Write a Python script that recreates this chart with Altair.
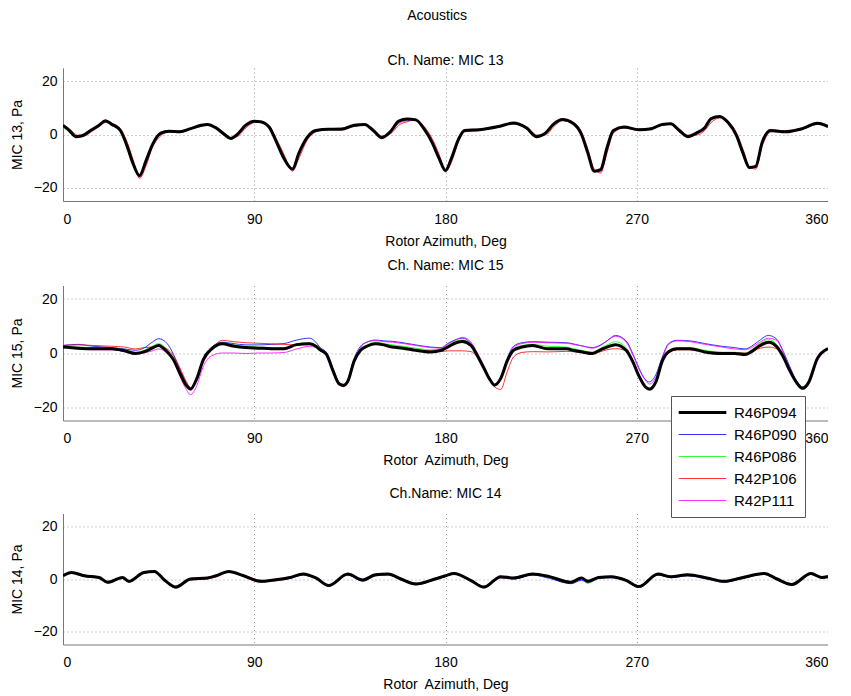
import altair as alt
import pandas as pd

SERIES = ["R46P094", "R46P090", "R46P086", "R42P106", "R42P111"]
COLORS = ["#000000", "#0000ff", "#00ff00", "#ff0000", "#ff00ff"]
WIDTHS = [3.0, 0.8, 0.8, 0.8, 0.8]

# ---------------- MIC 13 ----------------
m13_angle = [0, 3, 6, 9, 13, 17, 20, 23, 27, 30,
             33, 36, 39, 42, 46, 50, 55, 60, 65, 68,
             72, 76, 79, 82, 86, 90, 93, 97, 100, 104,
             108, 111, 115, 119, 125, 131, 137, 142, 146, 150,
             154, 158, 162, 166, 170, 174, 177, 180, 183, 186,
             189, 196, 205, 212, 218, 223, 227, 231, 235, 240,
             244, 247, 250, 253, 256, 259, 264, 271, 277, 282,
             286, 290, 294, 298, 302, 305, 309, 313, 317, 320,
             323, 326, 329, 333, 340, 348, 355, 360]
m13_R46P094 = [3.4, 1.5, -0.8, -0.5, 1.5, 3.5, 5.2, 3.8, 1.5, -4,
               -11, -15.5, -10, -4, 0.5, 1.2, 1.0, 2.2, 3.5, 3.8,
               2.5, 0, -1.5, 0, 3.5, 5, 4.8, 2.8, -2, -9,
               -13, -7, -1, 1.5, 2, 2, 3.5, 3.8, 1.5, -1.2,
               1.0, 5, 5.8, 5.5, 2, -3.5, -9, -13.5, -8.5, -2,
               1.5, 1.8, 3, 4.3, 2.5, -0.8, 0.5, 4, 5.6, 4.2,
               0, -7, -13.8, -13.2, -5, 1.5, 2.8, 1.8, 2.2, 3.8,
               4, 1.5, -0.8, 0.5, 2.5, 6, 6.8, 4.5, -0.5, -7,
               -12.4, -12, -3, 1.5, 1, 2.2, 4.2, 3]
m13_R46P090 = [3.0, 1.2, -1.0, -0.3, 1.8, 3.2, 5.0, 4.0, 1.2, -4.5,
               -11.5, -15.2, -9.5, -3.5, 0.8, 1.5, 1.2, 2.0, 3.2, 3.6,
               2.2, -0.3, -1.2, 0.3, 3.8, 5.2, 4.5, 2.5, -2.5, -9.5,
               -12.8, -6.5, -0.5, 1.8, 2.2, 2.4, 3.2, 3.5, 1.2, -1.0,
               1.4, 5.2, 5.5, 5.2, 1.8, -3.8, -9.5, -13.2, -8, -1.5,
               1.8, 2.0, 3.2, 4.0, 2.2, -1.0, 0.8, 4.2, 5.3, 4.0,
               -0.3, -7.5, -14, -13.2, -4.5, 1.8, 2.5, 2.0, 2.4, 3.5,
               3.8, 1.2, -1.0, 0.8, 2.8, 6.2, 6.5, 4.2, -0.8, -7.5,
               -12.8, -11.5, -2.5, 1.8, 1.3, 2.0, 4.0, 3.2]
m13_R46P086 = [2.8, 1.0, -1.2, -0.6, 1.4, 3.3, 4.8, 3.6, 1.0, -4.2,
               -11.2, -15.0, -9.8, -3.8, 0.3, 1.0, 1.3, 2.4, 3.6, 4.0,
               2.3, -0.5, -1.8, -0.2, 3.2, 4.8, 4.6, 2.6, -2.2, -9.2,
               -12.6, -6.8, -0.8, 1.3, 1.8, 2.2, 3.0, 3.6, 1.3, -1.5,
               0.8, 4.8, 5.5, 5.3, 1.6, -3.6, -9.2, -13.0, -8.2, -1.8,
               1.3, 1.6, 2.8, 4.1, 2.3, -1.2, 0.3, 3.8, 5.4, 4.4,
               0.2, -7.2, -13.8, -13.0, -4.8, 1.3, 2.6, 1.6, 2.0, 3.6,
               3.8, 1.3, -1.0, 0.3, 2.3, 5.8, 6.5, 4.3, -0.6, -7.2,
               -12.6, -11.8, -2.8, 1.3, 0.8, 2.3, 4.0, 2.6]
m13_R42P106 = [3.8, 2.2, 0.0, -0.8, 0.8, 3.0, 4.5, 4.2, 2.2, -2.5,
               -9.5, -16.5, -12, -5, -0.5, 1.0, 0.8, 2.0, 3.0, 3.5,
               2.8, 0.5, -1.2, -0.8, 2.5, 4.5, 4.8, 3.2, -1.0, -7.5,
               -13.8, -9, -2, 1.0, 2.0, 1.8, 3.0, 3.5, 2.0, -0.5,
               0.2, 3.5, 4.8, 5.5, 3.0, -2.0, -7.5, -14, -10, -3,
               1.0, 1.5, 2.8, 4.0, 3.0, -0.2, -0.2, 3.0, 5.2, 4.5,
               1.0, -5.5, -13, -14.5, -7, 0.5, 2.5, 1.5, 2.5, 3.5,
               4.2, 2.2, -0.2, -0.2, 1.5, 4.5, 6.2, 5.0, 0.5, -5.5,
               -12, -13, -4.5, 1.0, 1.2, 2.0, 3.8, 3.2]
m13_R42P111 = [3.6, 1.8, -0.5, -0.6, 1.2, 3.2, 4.8, 4.0, 1.8, -3.5,
               -10.5, -16.0, -11, -4.5, 0.0, 1.0, 1.2, 2.0, 3.3, 3.6,
               2.6, 0.2, -1.4, -0.4, 3.0, 4.8, 4.9, 3.0, -1.5, -8.2,
               -13.5, -8, -1.5, 1.3, 2.2, 2.0, 3.3, 3.7, 1.8, -0.8,
               0.6, 4.2, 5.2, 5.8, 2.5, -2.8, -8.5, -14, -9.5, -2.5,
               1.3, 1.8, 3.0, 4.2, 2.8, -0.5, 0.2, 3.5, 5.5, 4.5,
               0.5, -6.5, -13.5, -14, -6, 1.0, 2.6, 1.8, 2.4, 3.8,
               4.0, 1.8, -0.5, 0.2, 2.0, 5.5, 6.8, 4.8, 0, -6.5,
               -12.5, -12.5, -3.5, 1.5, 1.5, 2.5, 4.5, 3.5]

# ---------------- MIC 15 ----------------
m15_angle = [0, 7, 14, 23, 29, 34, 38, 42, 45, 49,
             52, 55, 58, 60, 63, 66, 70, 75, 80, 86,
             92, 98, 104, 110, 116, 119, 121, 124, 127, 130,
             132, 134, 137, 140, 143, 147, 151, 155, 160, 166,
             173, 178, 181, 185, 188, 192, 195, 198, 201, 203,
             206, 209, 212, 216, 221, 228, 237, 240, 245, 249,
             253, 256, 260, 265, 268, 271, 274, 276, 279, 282,
             285, 289, 295, 302, 310, 316, 321, 324, 327, 332,
             336, 339, 342, 345, 348, 351, 355, 360]
m15_R46P094 = [2.2, 1.8, 1.6, 1.6, 0.8, -0.2, 0.4, 1.8, 2.8, 0.4,
               -2.5, -7.5, -12, -13.4, -9.4, -2.5, 1.5, 3.4, 2.6, 2,
               1.8, 1.6, 1.6, 3.1, 3.4, 2.5, 1.2, -0.5, -6.5, -11.5,
               -12, -10.5, -3, 1.0, 2.5, 3.4, 3.0, 2.2, 1.8, 1.0,
               0.4, 1.0, 2.2, 3.8, 4.3, 2.8, -1, -5.5, -10, -11.9,
               -9.4, -3, 1.0, 2.2, 2.8, 1.6, 1.6, 1.0, 0.3, -0.2,
               1.2, 2.2, 3.1, 1.0, -3, -8.5, -12.5, -13.4, -10.7, -3,
               0.5, 1.6, 1.6, 0.4, -0.2, -0.2, -0.6, 0.5, 2.2, 4.0,
               2.2, -1.5, -6.5, -10.7, -13.1, -10.7, -2, 1.6]
m15_R46P090 = [2.8, 3.2, 2.5, 2.0, 1.5, 1.0, 1.8, 4.0, 5.3, 3.5,
               -0.5, -6, -11, -12.8, -9.5, -2, 2.2, 4.0, 3.5, 3.0,
               3.0, 3.2, 3.5, 4.8, 5.5, 4.0, 2.0, 0.2, -5.5, -11,
               -11.8, -10, -2, 2.5, 4.0, 4.8, 4.5, 4.3, 3.8, 3.0,
               2.2, 2.0, 3.5, 5.0, 5.5, 3.5, -0.5, -5, -10, -12,
               -9, -2, 2.5, 3.8, 4.2, 4.0, 3.8, 3.4, 2.5, 2.0,
               3.0, 4.5, 6.5, 4.5, 0, -5.5, -9.8, -10.7, -8, -1.5,
               3.5, 4.7, 4.5, 3.5, 2.5, 2.0, 1.5, 2.5, 4.2, 6.5,
               5.0, 0.5, -5, -10, -12.5, -10.5, -2.5, 1.8]
m15_R46P086 = [2.6, 2.2, 2.0, 1.8, 1.2, 0.3, 1.0, 2.5, 3.5, 1.2,
               -2, -7, -11.5, -13, -9, -2, 1.8, 3.6, 3.0, 2.5,
               2.2, 2.0, 2.0, 3.5, 3.8, 3.0, 1.5, -0.2, -6, -11,
               -11.5, -10, -2.5, 1.5, 3.0, 4.0, 3.5, 3.0, 2.5, 1.8,
               1.2, 1.5, 3.0, 4.5, 4.8, 3.2, -0.8, -5.2, -9.8, -11.5,
               -9, -2.5, 1.5, 2.8, 3.2, 2.5, 2.2, 1.6, 0.8, 0.3,
               1.8, 3.0, 4.2, 2.0, -2.5, -8, -12, -13, -10, -2.5,
               1.0, 2.0, 2.0, 1.0, 0.3, 0.3, 0, 1.2, 3.0, 5.0,
               3.0, -1, -6, -10.5, -12.5, -10.2, -2, 1.8]
m15_R42P106 = [2.8, 3.0, 2.8, 2.5, 2.2, 1.5, 2.0, 2.2, 2.5, 1.5,
               -1.0, -5.5, -10.5, -12.8, -10, -3.5, 1.5, 4.7, 4.2, 3.8,
               3.6, 3.4, 3.2, 3.0, 3.4, 2.5, 1.0, -0.8, -6, -11,
               -11.8, -10.2, -3.5, 0.5, 2.2, 3.2, 3.0, 2.4, 2.0, 1.2,
               0.8, 0.5, 0.8, 0.8, 0.8, 0.5, -1.5, -5, -9.5, -12.5,
               -13.5, -7, -1.5, 0.2, 0.5, 0.4, 0.6, 0.5, 0.0, -0.5,
               0.5, 1.2, 1.6, 0.8, -2.5, -8, -12, -13, -10.5, -3.5,
               0, 1.2, 1.2, 0.5, 0.2, 0, 0, 0.5, 1.5, 2.2,
               1.5, -1, -6, -10.5, -13, -11, -2.5, 1.5]
m15_R42P111 = [2.0, 1.5, 1.2, 1.2, 0.5, -0.5, 0, 0.8, 1.5, 0,
               -3, -8.5, -13.5, -15.5, -12, -5, -1, 0, 0, -0.2,
               0, 0, 0.2, 1.5, 2.5, 2.0, 1.0, -0.8, -6.5, -11.5,
               -12.5, -11, -3.5, 2.0, 4.0, 4.6, 4.2, 4.0, 3.5, 2.8,
               2.0, 1.8, 3.2, 5.0, 5.8, 4.0, 0, -4.5, -9.5, -11.5,
               -9, -2.5, 2.0, 3.5, 4.0, 3.8, 3.6, 3.2, 2.5, 1.8,
               2.8, 4.5, 6.2, 4.0, -0.5, -6, -10, -11.5, -9, -2,
               3.2, 4.5, 4.2, 3.2, 2.2, 1.5, 1.2, 2.0, 3.5, 5.5,
               4.5, 0, -5.5, -10.5, -13.5, -11.5, -3, 1.5]

# ---------------- MIC 14 ----------------
m14_angle = [0, 4, 10, 17, 21, 28, 31, 38, 43, 48,
             53, 60, 68, 72, 78, 85, 93, 99, 107, 113,
             119, 125, 134, 141, 147, 153, 159, 166, 175, 180,
             184, 192, 198, 206, 212, 221, 229, 239, 244, 247,
             252, 258, 265, 271, 280, 286, 294, 303, 311, 319,
             330, 336, 343, 352, 357, 360]
m14_R46P094 = [1.25, 2.5, 1.25, 0.6, -1.25, 0.6, -0.9, 2.5, 2.9, -0.6,
               -3.1, 0, 0.4, 1.25, 2.9, 1.25, -0.9, -0.4, 0.6, 1.9,
               0.4, -2.5, 1.9, -0.4, 1.6, 1.9, 0, -1.9, 0, 1.25,
               2.1, -0.6, -3.1, 0.9, 0.4, 1.9, 0.9, -1.25, 0.4, -0.9,
               0.6, 0.9, -0.5, -2.9, 1.9, 0.9, 1.6, 0.4, -0.9, 0.4,
               2.1, 0, -2.1, 2.1, 0.6, 0.9]
m14_R46P090 = [1.0, 2.2, 1.0, 0.3, -1.5, 0.2, -1.2, 2.2, 2.6, -0.8,
               -3.4, -0.3, 0.2, 1.0, 2.6, 1.0, -1.2, -0.7, 0.3, 1.5,
               0.1, -2.8, 1.5, -0.8, 1.2, 1.5, -0.3, -2.2, -0.3, 1.0,
               1.8, -0.9, -3.4, 0.5, 0.0, 1.5, 0.2, -1.8, -0.5, -1.5,
               0.2, 0.5, -0.8, -3.2, 1.5, 0.5, 1.2, 0.0, -1.3, 0.0,
               1.8, -0.3, -2.4, 1.8, 0.3, 0.6]
m14_R46P086 = [1.1, 2.3, 1.1, 0.5, -1.4, 0.4, -1.0, 2.3, 2.7, -0.7,
               -3.2, -0.1, 0.3, 1.1, 2.7, 1.1, -1.0, -0.5, 0.5, 1.7,
               0.3, -2.6, 1.7, -0.5, 1.4, 1.7, -0.1, -2.0, -0.1, 1.1,
               1.9, -0.7, -3.2, 0.7, 0.2, 1.7, 0.6, -1.5, 0.0, -1.6,
               0.4, 0.7, -0.6, -3.0, 1.7, 0.7, 1.4, 0.2, -1.1, 0.2,
               1.9, -0.1, -2.2, 1.9, 0.4, 0.7]
m14_R42P106 = [1.4, 2.4, 1.5, 0.8, -1.0, 0.5, -0.6, 2.2, 2.8, -0.3,
               -3.4, -0.4, 0.0, 0.8, 2.6, 1.4, -0.5, -0.7, 0.3, 1.7,
               0.6, -2.3, 1.6, -0.6, 1.3, 2.0, 0.3, -1.6, -0.3, 1.0,
               2.0, -0.3, -2.8, 0.5, 0.2, 1.6, 1.0, -1.6, 0.2, -0.8,
               0.4, 0.8, -0.3, -2.6, 1.5, 0.7, 1.3, 0.2, -1.1, 0.1,
               2.0, 0.2, -1.8, 1.8, 0.8, 1.0]
m14_R42P111 = [1.3, 2.6, 1.4, 0.7, -1.1, 0.7, -0.8, 2.6, 3.0, -0.4,
               -3.0, 0.2, 0.6, 1.4, 3.0, 1.4, -0.7, -0.2, 0.8, 2.0,
               0.6, -2.3, 2.0, -0.2, 1.8, 2.0, 0.2, -1.7, 0.2, 1.4,
               2.3, -0.4, -3.0, 1.0, 0.6, 2.0, 1.0, -1.0, 0.6, -0.7,
               0.8, 1.0, -0.3, -2.7, 2.0, 1.0, 1.8, 0.6, -0.7, 0.6,
               2.2, 0.2, -1.9, 2.3, 0.9, 1.4]

FONT = "Liberation Sans"
PLOT_W = 765


def build_df(angles, series_values):
    rows = []
    for name, vals in zip(SERIES, series_values):
        if len(vals) != len(angles):
            raise ValueError(f"{name}: {len(vals)} values vs {len(angles)} angles")
        for a, v in zip(angles, vals):
            rows.append({"angle": a, "value": v, "series": name})
    return pd.DataFrame(rows)


LEGEND = alt.Legend(
    title=None, orient="none", legendX=608, legendY=328,
    symbolType="M-3.4,0H3.4", symbolSize=196, symbolOffset=15,
    labelFont=FONT, labelFontSize=15, labelColor="#000", labelOffset=23,
    fillColor="white", strokeColor="#555", padding=8,
    rowPadding=6, direction="vertical",
)


def panel(angles, series_values, title, title_offset, ytitle, xtitle, height):
    df = build_df(angles, series_values)
    x = alt.X("angle:Q", scale=alt.Scale(domain=[0, 360], nice=False),
              axis=alt.Axis(values=[0, 90, 180, 270, 360], title=xtitle,
                            format="d"))
    y = alt.Y("value:Q", scale=alt.Scale(domain=[-25, 25], nice=False),
              axis=alt.Axis(values=[-20, 0, 20], title=ytitle, format="d"))
    color = alt.Color("series:N", scale=alt.Scale(domain=SERIES, range=COLORS),
                      legend=LEGEND)
    sw = alt.StrokeWidth("series:N",
                         scale=alt.Scale(type="ordinal", domain=SERIES, range=WIDTHS),
                         legend=LEGEND)
    base = alt.Chart(df).mark_line(clip=True, interpolate="monotone").encode(
        x=x, y=y, color=color, strokeWidth=sw)
    thin = base.transform_filter(alt.datum.series != "R46P094")
    thick = base.transform_filter(alt.datum.series == "R46P094")
    return alt.layer(thin, thick).properties(
        width=PLOT_W, height=height,
        title=alt.TitleParams(title, offset=title_offset),
    )


p1 = panel(m13_angle, [m13_R46P094, m13_R46P090, m13_R46P086, m13_R42P106, m13_R42P111],
           "Ch. Name: MIC 13", 0, "MIC 13, Pa", "Rotor Azimuth, Deg", 133)
p2 = panel(m15_angle, [m15_R46P094, m15_R46P090, m15_R46P086, m15_R42P106, m15_R42P111],
           "Ch. Name: MIC 15", 13, "MIC 15, Pa", "Rotor\u00a0 Azimuth, Deg", 135)
p3 = panel(m14_angle, [m14_R46P094, m14_R46P090, m14_R46P086, m14_R42P106, m14_R42P111],
           "Ch.Name: MIC 14", 13, "MIC 14, Pa", "Rotor\u00a0 Azimuth, Deg", 131)

chart = alt.vconcat(alt.vconcat(p1, p2, spacing=10.5), p3, spacing=18.5).properties(
    title=alt.TitleParams("Acoustics", offset=31.5, fontSize=14, font=FONT,
                          fontWeight="normal", color="#000", anchor="middle",
                          dx=18),
    padding={"left": 2, "top": 0, "right": 0, "bottom": 0},
).resolve_scale(color="shared", strokeWidth="shared").configure_view(
    stroke=None
).configure_axis(
    labelFont=FONT, labelFontSize=14, labelColor="#000", titleFont=FONT,
    titleFontSize=14, titleFontWeight="normal", titleColor="#000",
    domainColor="#777", domainWidth=1, ticks=False,
    gridColor="#999", gridDash=[1, 3], gridWidth=1, gridOpacity=1,
).configure_axisX(
    labelPadding=11, titlePadding=8,
).configure_axisY(
    labelPadding=6, titlePadding=9,
).configure_title(
    font=FONT, fontSize=14, fontWeight="normal", color="#000", anchor="middle",
).configure_legend(
    labelFont=FONT, labelFontSize=15,
)

chart.save("out.html", embed_options={"renderer": "svg", "actions": False})
